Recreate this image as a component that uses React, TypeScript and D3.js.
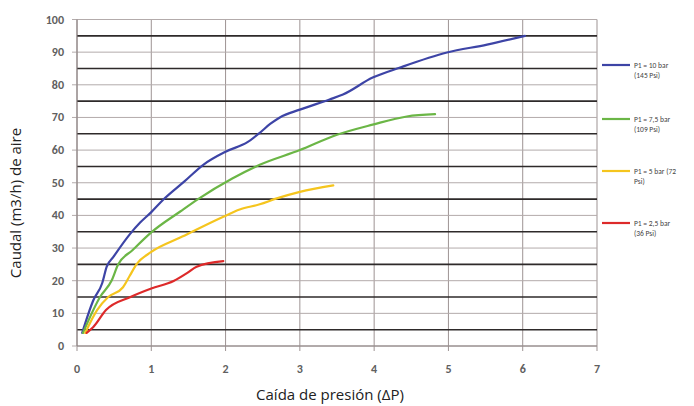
import React from "react";
import * as d3 from "d3";

const xTicks = [0, 1, 2, 3, 4, 5, 6, 7];
const yTicks = [0, 10, 20, 30, 40, 50, 60, 70, 80, 90, 100];
const thickLines = [5, 15, 25, 35, 45, 55, 65, 75, 85, 95];

const blueX = [0.07, 0.22, 0.34, 0.4, 0.49, 0.71, 0.85, 1.0, 1.16, 1.45, 1.7, 2.0, 2.3, 2.46, 2.6, 2.73, 3.0, 3.4, 3.58, 3.98, 4.35, 4.98, 5.52, 6.03];
const blueY = [4, 14, 19.3, 24.3, 27.3, 34.2, 37.8, 41, 44.8, 50.5, 55.5, 59.5, 62.5, 65.3, 68, 70, 72.4, 75.5, 77, 82.2, 85.3, 89.9, 92.3, 95];

const greenX = [0.08, 0.31, 0.47, 0.55, 0.75, 1.0, 1.39, 1.63, 2.09, 2.46, 3.0, 3.5, 3.98, 4.44, 4.82];
const greenY = [4, 15, 20.2, 24.8, 29.4, 34.8, 41.2, 45, 51.3, 55.5, 60, 64.7, 67.8, 70.3, 71];

const yellowX = [0.11, 0.27, 0.42, 0.62, 0.71, 0.8, 1.0, 1.39, 1.97, 2.19, 2.46, 2.69, 3.0, 3.45];
const yellowY = [4, 11, 15, 18, 21.5, 25, 28.8, 33.2, 39.6, 41.8, 43.4, 45.2, 47.2, 49.2];

const redX = [0.13, 0.22, 0.39, 0.72, 1.0, 1.3, 1.48, 1.61, 1.97];
const redY = [4, 5.8, 11, 15, 17.6, 19.9, 22.3, 24.3, 26];

const seriesNames = [["P1 = 10 bar", "(145 Psi)"], ["P1 = 7,5 bar", "(109 Psi)"], ["P1 = 5 bar (72", "Psi)"], ["P1 = 2,5 bar", "(36 Psi)"]];
const colors = ["#3d44a6", "#6bb646", "#f5c51e", "#dd2a2a"];

export default function App() {
  const x = d3.scaleLinear().domain([0, 7]).range([77, 597]);
  const y = d3.scaleLinear().domain([0, 100]).range([346, 19.5]);
  const line = d3.line<[number, number]>().x(d => x(d[0])).y(d => y(d[1])).curve(d3.curveMonotoneX);
  const series = [
    d3.zip(blueX, blueY),
    d3.zip(greenX, greenY),
    d3.zip(yellowX, yellowY),
    d3.zip(redX, redY),
  ] as [number, number][][];
  const legendY = [65, 119, 171, 223];
  const tickFont = "Calibri, 'Liberation Sans', 'Open Sans', sans-serif";
  return (
    <svg width={694} height={406} style={{ position: "absolute", left: 0, top: 0, background: "#fff" }}>
      <rect x={0} y={0} width={694} height={406} fill="#fff" />
      {xTicks.map(t => (
        <line key={"vx" + t} x1={x(t)} x2={x(t)} y1={y(100)} y2={y(0) + 5} stroke="#9d9393" strokeWidth={1} />
      ))}
      {yTicks.map(t => (
        <line key={"hy" + t} x1={x(0) - 5} x2={x(7)} y1={y(t)} y2={y(t)} stroke="#b3abab" strokeWidth={1} />
      ))}
      {thickLines.map(t => (
        <line key={"th" + t} x1={x(0)} x2={x(7)} y1={y(t)} y2={y(t)} stroke="#2e2a2a" strokeWidth={1.6} />
      ))}
      <line x1={x(0)} x2={x(0)} y1={y(100)} y2={y(0)} stroke="#8a8080" strokeWidth={1} />
      <line x1={x(0)} x2={x(7)} y1={y(0)} y2={y(0)} stroke="#8a8080" strokeWidth={1} />
      {yTicks.map(t => (
        <text key={"yl" + t} x={64} y={y(t) + 4} textAnchor="end" fontSize={12} fontWeight="bold" fill="#606060" fontFamily={tickFont}>{t}</text>
      ))}
      {xTicks.map(t => (
        <text key={"xl" + t} x={x(t)} y={373} textAnchor="middle" fontSize={12} fontWeight="bold" fill="#606060" fontFamily={tickFont}>{t}</text>
      ))}
      {series.map((s, i) => (
        <path key={"s" + i} d={line(s) || ""} fill="none" stroke={colors[i]} strokeWidth={2.2} strokeLinejoin="round" strokeLinecap="round" />
      ))}
      {seriesNames.map((n, i) => (
        <g key={"lg" + i}>
          <line x1={602} x2={630} y1={legendY[i]} y2={legendY[i]} stroke={colors[i]} strokeWidth={2.2} />
          <text x={634} y={legendY[i] + 3} fontSize={7.5} fill="#444" fontFamily={tickFont}>{n[0]}</text>
          <text x={634} y={legendY[i] + 13} fontSize={7.5} fill="#444" fontFamily={tickFont}>{n[1]}</text>
        </g>
      ))}
      <text x={330} y={400} textAnchor="middle" fontSize={15} fill="#222" fontFamily="'Open Sans', 'Noto Sans', sans-serif">Caída de presión (ΔP)</text>
      <text transform={`translate(21,203) rotate(-90)`} textAnchor="middle" fontSize={15} fill="#222" fontFamily="'Open Sans', 'Noto Sans', sans-serif">Caudal (m3/h) de aire</text>
    </svg>
  );
}
